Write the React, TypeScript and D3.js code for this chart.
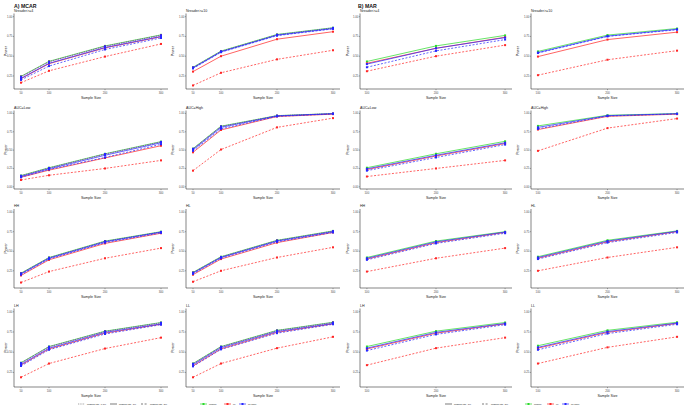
import React from "react";
import * as d3 from "d3";

// ---------- data ----------
const sampleSizesMCAR = [50, 100, 200, 300];
const sampleSizesMAR = [100, 200, 300];
const powerTicks = [0, 0.25, 0.5, 0.75, 1];
const panelTitles = ["Nreader>=4", "Nreader>=10", "AUC=Low", "AUC=High", "HH", "HL", "LH", "LL"];
const methodLabels = ["original", "cc", "mi-mmo"];
const mcarRateLabels = ["missing rate=0.1%", "missing rate=1%", "missing rate=5%"];
const marRateLabels = ["missing rate=1%", "missing rate=5%"];

// MCAR panels: original, cc (0.1%, 1%, 5%), mi (0.1%, 1%, 5%)
const mcarN4 = {
  original: [0.245, 0.435, 0.63, 0.77],
  cc01: [0.24, 0.43, 0.625, 0.765], cc1: [0.215, 0.405, 0.605, 0.745], cc5: [0.165, 0.315, 0.495, 0.655],
  mi01: [0.24, 0.43, 0.625, 0.765], mi1: [0.22, 0.41, 0.61, 0.75], mi5: [0.2, 0.375, 0.585, 0.73],
};
const mcarN10 = {
  original: [0.36, 0.565, 0.775, 0.86],
  cc01: [0.355, 0.56, 0.77, 0.855], cc1: [0.305, 0.5, 0.715, 0.81], cc5: [0.13, 0.29, 0.46, 0.575],
  mi01: [0.358, 0.562, 0.772, 0.858], mi1: [0.35, 0.555, 0.765, 0.85], mi5: [0.345, 0.55, 0.76, 0.845],
};
const mcarAucLow = {
  original: [0.153, 0.26, 0.45, 0.616],
  cc01: [0.148, 0.255, 0.445, 0.61], cc1: [0.13, 0.227, 0.393, 0.56], cc5: [0.093, 0.157, 0.25, 0.36],
  mi01: [0.15, 0.257, 0.447, 0.612], mi1: [0.14, 0.245, 0.43, 0.6], mi5: [0.13, 0.236, 0.4, 0.58],
};
const mcarAucHigh = {
  original: [0.52, 0.826, 0.97, 0.998],
  cc01: [0.515, 0.82, 0.968, 0.997], cc1: [0.47, 0.775, 0.958, 0.99], cc5: [0.22, 0.508, 0.81, 0.936],
  mi01: [0.518, 0.823, 0.969, 0.997], mi1: [0.505, 0.81, 0.966, 0.996], mi5: [0.49, 0.79, 0.96, 0.994],
};
const mcarHH = {
  original: [0.22, 0.42, 0.63, 0.75],
  cc01: [0.215, 0.415, 0.625, 0.745], cc1: [0.19, 0.39, 0.6, 0.73], cc5: [0.1, 0.24, 0.41, 0.54],
  mi01: [0.217, 0.417, 0.627, 0.747], mi1: [0.21, 0.41, 0.62, 0.745], mi5: [0.2, 0.4, 0.61, 0.735],
};
const mcarHL = {
  original: [0.23, 0.43, 0.64, 0.76],
  cc01: [0.225, 0.425, 0.635, 0.755], cc1: [0.2, 0.4, 0.61, 0.74], cc5: [0.11, 0.25, 0.42, 0.55],
  mi01: [0.227, 0.427, 0.637, 0.757], mi1: [0.22, 0.42, 0.63, 0.75], mi5: [0.21, 0.41, 0.62, 0.74],
};
const mcarLH = {
  original: [0.37, 0.57, 0.76, 0.867],
  cc01: [0.365, 0.565, 0.755, 0.862], cc1: [0.34, 0.54, 0.735, 0.845], cc5: [0.19, 0.36, 0.545, 0.68],
  mi01: [0.367, 0.567, 0.757, 0.864], mi1: [0.35, 0.55, 0.745, 0.85], mi5: [0.33, 0.53, 0.725, 0.84],
};
const mcarLL = {
  original: [0.36, 0.57, 0.77, 0.87],
  cc01: [0.355, 0.565, 0.765, 0.865], cc1: [0.33, 0.54, 0.745, 0.85], cc5: [0.19, 0.36, 0.55, 0.69],
  mi01: [0.357, 0.567, 0.767, 0.867], mi1: [0.345, 0.555, 0.755, 0.855], mi5: [0.325, 0.535, 0.735, 0.845],
};

// MAR panels: original, cc (1%, 5%), mi (1%, 5%)
const marN4 = {
  original: [0.433, 0.63, 0.763],
  cc1: [0.41, 0.6, 0.74], cc5: [0.31, 0.5, 0.64],
  mi1: [0.4, 0.6, 0.735], mi5: [0.36, 0.567, 0.71],
};
const marN10 = {
  original: [0.56, 0.767, 0.85],
  cc1: [0.495, 0.71, 0.804], cc5: [0.26, 0.455, 0.57],
  mi1: [0.546, 0.754, 0.84], mi5: [0.54, 0.75, 0.835],
};
const marAucLow = {
  original: [0.26, 0.45, 0.62],
  cc1: [0.235, 0.42, 0.59], cc5: [0.14, 0.25, 0.36],
  mi1: [0.245, 0.43, 0.6], mi5: [0.22, 0.4, 0.575],
};
const marAucHigh = {
  original: [0.83, 0.975, 0.998],
  cc1: [0.78, 0.96, 0.99], cc5: [0.49, 0.8, 0.93],
  mi1: [0.81, 0.97, 0.996], mi5: [0.79, 0.965, 0.994],
};
const marHH = {
  original: [0.42, 0.63, 0.75],
  cc1: [0.4, 0.61, 0.74], cc5: [0.24, 0.41, 0.54],
  mi1: [0.41, 0.62, 0.745], mi5: [0.39, 0.6, 0.73],
};
const marHL = {
  original: [0.43, 0.64, 0.76],
  cc1: [0.41, 0.62, 0.75], cc5: [0.25, 0.42, 0.55],
  mi1: [0.42, 0.63, 0.755], mi5: [0.4, 0.61, 0.74],
};
const marLH = {
  original: [0.57, 0.76, 0.867],
  cc1: [0.54, 0.735, 0.85], cc5: [0.34, 0.55, 0.68],
  mi1: [0.55, 0.745, 0.855], mi5: [0.52, 0.72, 0.84],
};
const marLL = {
  original: [0.58, 0.77, 0.87],
  cc1: [0.55, 0.745, 0.855], cc5: [0.36, 0.56, 0.69],
  mi1: [0.56, 0.755, 0.86], mi5: [0.53, 0.73, 0.845],
};

const mcarPanels = [mcarN4, mcarN10, mcarAucLow, mcarAucHigh, mcarHH, mcarHL, mcarLH, mcarLL];
const marPanels = [marN4, marN10, marAucLow, marAucHigh, marHH, marHL, marLH, marLL];

// ---------- styling / layout ----------
const FONT = "'Liberation Sans', Arial, sans-serif";
const COLORS: Record<string, string> = { original: "#2BD92B", cc: "#FF2626", mi: "#2626FF" };
const DASH: Record<string, string | undefined> = { "0": undefined, "01": "0.7,1.1", "1": undefined, "5": "2,1.6" };

const COLS = [
  { left: 14, right: 168, powerX: 6.5 },
  { left: 186, right: 340, powerX: 173.5 },
  { left: 360, right: 512, powerX: 348.5 },
  { left: 531, right: 684, powerX: 518.5 },
];
const ROWS = [
  { top: 13.5, bottom: 89, lo: 0.085 },
  { top: 110.5, bottom: 189, lo: -0.03 },
  { top: 209, bottom: 288, lo: 0.03 },
  { top: 308.5, bottom: 387, lo: 0.07 },
];
const HI = 1.04;

type SeriesSpec = { key: string; method: string; rate: string };
const mcarSeries: SeriesSpec[] = [
  { key: "original", method: "original", rate: "0" },
  { key: "cc01", method: "cc", rate: "01" },
  { key: "cc1", method: "cc", rate: "1" },
  { key: "cc5", method: "cc", rate: "5" },
  { key: "mi01", method: "mi", rate: "01" },
  { key: "mi1", method: "mi", rate: "1" },
  { key: "mi5", method: "mi", rate: "5" },
];
const marSeries: SeriesSpec[] = [
  { key: "original", method: "original", rate: "0" },
  { key: "cc1", method: "cc", rate: "1" },
  { key: "cc5", method: "cc", rate: "5" },
  { key: "mi1", method: "mi", rate: "1" },
  { key: "mi5", method: "mi", rate: "5" },
];

function Panel({ colIdx, rowIdx, title, xs, data, specs }: any) {
  const c = COLS[colIdx];
  const r = ROWS[rowIdx];
  const xMin = d3.min(xs as number[])!;
  const xMax = d3.max(xs as number[])!;
  const pad = (xMax - xMin) * 0.05;
  const x = d3.scaleLinear().domain([xMin - pad, xMax + pad]).range([c.left, c.right]);
  const y = d3.scaleLinear().domain([r.lo, HI]).range([r.bottom, r.top]);
  const line = d3.line<number>().x((_, i) => x(xs[i])).y((v) => y(v));
  const yt = powerTicks.filter((t) => t >= r.lo && t <= HI);
  return (
    <g>
      <text x={c.left} y={r.top - 2} fontSize={3.6} fontFamily={FONT} fill="#222">{title}</text>
      <line x1={c.left} x2={c.left} y1={r.top} y2={r.bottom} stroke="#333" strokeWidth={0.6} />
      <line x1={c.left} x2={c.right} y1={r.bottom} y2={r.bottom} stroke="#333" strokeWidth={0.6} />
      {yt.map((t) => (
        <g key={t}>
          <line x1={c.left - 1.2} x2={c.left} y1={y(t)} y2={y(t)} stroke="#333" strokeWidth={0.4} />
          <text x={c.left - 1.6} y={y(t) + 1} fontSize={2.8} textAnchor="end" fontFamily={FONT} fill="#4d4d4d">{t.toFixed(2)}</text>
        </g>
      ))}
      {xs.map((t: number) => (
        <g key={t}>
          <line x1={x(t)} x2={x(t)} y1={r.bottom} y2={r.bottom + 1.2} stroke="#333" strokeWidth={0.4} />
          <text x={x(t)} y={r.bottom + 4.6} fontSize={2.8} textAnchor="middle" fontFamily={FONT} fill="#4d4d4d">{t}</text>
        </g>
      ))}
      <text x={(c.left + c.right) / 2} y={r.bottom + 10} fontSize={3.6} textAnchor="middle" fontFamily={FONT} fill="#222">Sample Size</text>
      <text transform={`translate(${c.powerX},${(r.top + r.bottom) / 2}) rotate(-90)`} fontSize={3.6} textAnchor="middle" fontFamily={FONT} fill="#222">Power</text>
      {specs.map((s: SeriesSpec) => (
        <g key={s.key}>
          <path d={line(data[s.key])!} fill="none" stroke={COLORS[s.method]} strokeWidth={0.8} strokeDasharray={DASH[s.rate]} opacity={0.9} />
          {data[s.key].map((v: number, i: number) => (
            <rect key={i} x={x(xs[i]) - 1} y={y(v) - 1} width={2} height={2} fill={COLORS[s.method]} />
          ))}
        </g>
      ))}
    </g>
  );
}

function Legend({ rateLabels, rateKeys, ratePos, methodPos, yPos }: any) {
  const mk = ["original", "cc", "mi"];
  return (
    <g>
      {rateLabels.map((lab: string, i: number) => (
        <g key={lab}>
          <line x1={ratePos[i]} x2={ratePos[i] + 7} y1={yPos} y2={yPos} stroke="#222" strokeWidth={0.6} strokeDasharray={DASH[rateKeys[i]]} />
          <text x={ratePos[i] + 9} y={yPos + 0.9} fontSize={2.3} fontFamily={FONT} fill="#222">{lab}</text>
        </g>
      ))}
      {methodLabels.map((lab: string, i: number) => (
        <g key={lab}>
          <line x1={methodPos[i]} x2={methodPos[i] + 7} y1={yPos} y2={yPos} stroke={COLORS[mk[i]]} strokeWidth={0.7} />
          <rect x={methodPos[i] + 2.5} y={yPos - 1} width={2} height={2} fill={COLORS[mk[i]]} />
          <text x={methodPos[i] + 9} y={yPos + 0.9} fontSize={2.3} fontFamily={FONT} fill="#222">{lab}</text>
        </g>
      ))}
    </g>
  );
}

export default function App() {
  return (
    <svg width={685} height={408} style={{ position: "absolute", left: 0, top: 0, background: "#fff" }}>
      <rect width={685} height={408} fill="#fff" />
      <text x={14} y={7.5} fontSize={5.2} fontWeight="bold" fontFamily={FONT} fill="#111">A) MCAR</text>
      <text x={358} y={7.5} fontSize={5.2} fontWeight="bold" fontFamily={FONT} fill="#111">B) MAR</text>
      {mcarPanels.map((d, i) => (
        <Panel key={"mc" + i} colIdx={i % 2} rowIdx={Math.floor(i / 2)} title={panelTitles[i]} xs={sampleSizesMCAR} data={d} specs={mcarSeries} />
      ))}
      {marPanels.map((d, i) => (
        <Panel key={"ma" + i} colIdx={2 + (i % 2)} rowIdx={Math.floor(i / 2)} title={panelTitles[i]} xs={sampleSizesMAR} data={d} specs={marSeries} />
      ))}
      <Legend rateLabels={mcarRateLabels} rateKeys={["01", "1", "5"]} ratePos={[78, 110, 141]} methodPos={[200, 224, 239]} yPos={404} />
      <Legend rateLabels={marRateLabels} rateKeys={["1", "5"]} ratePos={[445, 482]} methodPos={[525, 547, 562]} yPos={404} />
    </svg>
  );
}
